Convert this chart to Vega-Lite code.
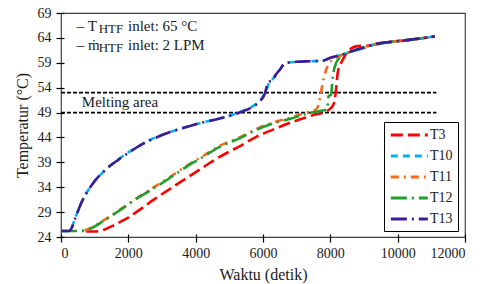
{
  "$schema": "https://vega.github.io/schema/vega-lite/v6.json",
  "width": 404,
  "height": 224,
  "autosize": {"type": "none"},
  "padding": {"left": 61, "top": 13, "right": 21, "bottom": 47},
  "background": "white",
  "config": {
    "view": {"stroke": "#404040", "strokeWidth": 1.2},
    "font": "Liberation Serif",
    "axis": {
      "grid": false,
      "domain": false,
      "tickSize": 8,
      "offset": -3,
      "tickColor": "#000000",
      "tickWidth": 1.2,
      "labelOverlap": false,
      "labelFont": "Liberation Serif",
      "labelFontSize": 14,
      "labelColor": "#1a1a1a",
      "titleFont": "Liberation Serif",
      "titleFontSize": 16,
      "titleFontWeight": "normal",
      "titleColor": "#1a1a1a"
    }
  },
  "datasets": {
    "curves": [
      {"s": "T3", "t": 750, "v": 25.1}, {"s": "T3", "t": 1000, "v": 25.1}, {"s": "T3", "t": 1250, "v": 25.4}, {"s": "T3", "t": 1550, "v": 26.3}, {"s": "T3", "t": 1748, "v": 27.0}, {"s": "T3", "t": 1946, "v": 27.7}, {"s": "T3", "t": 2300, "v": 29.3}, {"s": "T3", "t": 2735, "v": 31.4}, {"s": "T3", "t": 3200, "v": 33.5}, {"s": "T3", "t": 3724, "v": 35.8}, {"s": "T3", "t": 4200, "v": 37.9}, {"s": "T3", "t": 4711, "v": 40.1}, {"s": "T3", "t": 5300, "v": 42.2}, {"s": "T3", "t": 5798, "v": 44.1}, {"s": "T3", "t": 6489, "v": 46.1}, {"s": "T3", "t": 6785, "v": 46.9}, {"s": "T3", "t": 7180, "v": 47.8}, {"s": "T3", "t": 7500, "v": 48.5}, {"s": "T3", "t": 7872, "v": 49.2}, {"s": "T3", "t": 8000, "v": 49.8}, {"s": "T3", "t": 8069, "v": 50.3}, {"s": "T3", "t": 8130, "v": 51.5}, {"s": "T3", "t": 8168, "v": 53.5}, {"s": "T3", "t": 8217, "v": 56.9}, {"s": "T3", "t": 8316, "v": 58.9}, {"s": "T3", "t": 8400, "v": 60.0}, {"s": "T3", "t": 8513, "v": 61.2}, {"s": "T3", "t": 8650, "v": 62.0}, {"s": "T3", "t": 8760, "v": 62.3}, {"s": "T3", "t": 8950, "v": 62.4}, {"s": "T3", "t": 9100, "v": 62.4}, {"s": "T3", "t": 9452, "v": 62.9}, {"s": "T3", "t": 9800, "v": 63.2}, {"s": "T3", "t": 10341, "v": 63.6}, {"s": "T3", "t": 10800, "v": 64.0}, {"s": "T3", "t": 11100, "v": 64.3},

      {"s": "T10", "t": 0, "v": 25.2}, {"s": "T10", "t": 200, "v": 25.2}, {"s": "T10", "t": 300, "v": 25.7}, {"s": "T10", "t": 415, "v": 27.7}, {"s": "T10", "t": 612, "v": 31.0}, {"s": "T10", "t": 908, "v": 34.4}, {"s": "T10", "t": 1304, "v": 37.4}, {"s": "T10", "t": 1700, "v": 39.6}, {"s": "T10", "t": 2000, "v": 41.0}, {"s": "T10", "t": 2400, "v": 42.6}, {"s": "T10", "t": 2735, "v": 43.8}, {"s": "T10", "t": 3200, "v": 45.0}, {"s": "T10", "t": 3724, "v": 46.1}, {"s": "T10", "t": 4200, "v": 47.0}, {"s": "T10", "t": 4711, "v": 47.8}, {"s": "T10", "t": 5304, "v": 49.1}, {"s": "T10", "t": 5700, "v": 50.3}, {"s": "T10", "t": 5900, "v": 51.3}, {"s": "T10", "t": 6050, "v": 52.9}, {"s": "T10", "t": 6150, "v": 54.4}, {"s": "T10", "t": 6200, "v": 55.5}, {"s": "T10", "t": 6300, "v": 55.8}, {"s": "T10", "t": 6400, "v": 56.9}, {"s": "T10", "t": 6500, "v": 57.6}, {"s": "T10", "t": 6650, "v": 58.9}, {"s": "T10", "t": 7000, "v": 59.2}, {"s": "T10", "t": 7400, "v": 59.3}, {"s": "T10", "t": 7773, "v": 59.4}, {"s": "T10", "t": 8000, "v": 60.0}, {"s": "T10", "t": 8168, "v": 60.3}, {"s": "T10", "t": 8465, "v": 60.9}, {"s": "T10", "t": 8760, "v": 61.6}, {"s": "T10", "t": 8958, "v": 62.0}, {"s": "T10", "t": 9452, "v": 62.9}, {"s": "T10", "t": 9800, "v": 63.2}, {"s": "T10", "t": 10341, "v": 63.6}, {"s": "T10", "t": 10800, "v": 64.0}, {"s": "T10", "t": 11100, "v": 64.3},

      {"s": "T11", "t": 700, "v": 25.3}, {"s": "T11", "t": 809, "v": 25.6}, {"s": "T11", "t": 1304, "v": 27.5}, {"s": "T11", "t": 1798, "v": 29.7}, {"s": "T11", "t": 2292, "v": 32.0}, {"s": "T11", "t": 2735, "v": 33.9}, {"s": "T11", "t": 3200, "v": 35.9}, {"s": "T11", "t": 3724, "v": 38.3}, {"s": "T11", "t": 4200, "v": 40.2}, {"s": "T11", "t": 4711, "v": 42.3}, {"s": "T11", "t": 5300, "v": 44.0}, {"s": "T11", "t": 5798, "v": 45.7}, {"s": "T11", "t": 6300, "v": 47.0}, {"s": "T11", "t": 6785, "v": 47.9}, {"s": "T11", "t": 7100, "v": 48.6}, {"s": "T11", "t": 7378, "v": 49.2}, {"s": "T11", "t": 7575, "v": 49.6}, {"s": "T11", "t": 7650, "v": 50.6}, {"s": "T11", "t": 7710, "v": 52.6}, {"s": "T11", "t": 7773, "v": 54.9}, {"s": "T11", "t": 7872, "v": 57.5}, {"s": "T11", "t": 7970, "v": 58.9}, {"s": "T11", "t": 8100, "v": 59.8}, {"s": "T11", "t": 8300, "v": 60.4}, {"s": "T11", "t": 8465, "v": 60.9}, {"s": "T11", "t": 8760, "v": 61.6}, {"s": "T11", "t": 8958, "v": 62.0}, {"s": "T11", "t": 9452, "v": 62.9}, {"s": "T11", "t": 9800, "v": 63.2}, {"s": "T11", "t": 10341, "v": 63.6}, {"s": "T11", "t": 10800, "v": 64.0}, {"s": "T11", "t": 11100, "v": 64.3},

      {"s": "T12", "t": 0, "v": 25.2}, {"s": "T12", "t": 560, "v": 25.2}, {"s": "T12", "t": 809, "v": 25.5}, {"s": "T12", "t": 1304, "v": 27.4}, {"s": "T12", "t": 1798, "v": 29.6}, {"s": "T12", "t": 2292, "v": 31.9}, {"s": "T12", "t": 2735, "v": 33.7}, {"s": "T12", "t": 3200, "v": 35.7}, {"s": "T12", "t": 3724, "v": 38.1}, {"s": "T12", "t": 4200, "v": 40.0}, {"s": "T12", "t": 4711, "v": 42.1}, {"s": "T12", "t": 5300, "v": 43.8}, {"s": "T12", "t": 5798, "v": 45.5}, {"s": "T12", "t": 6300, "v": 46.8}, {"s": "T12", "t": 6785, "v": 47.7}, {"s": "T12", "t": 7378, "v": 48.9}, {"s": "T12", "t": 7773, "v": 49.4}, {"s": "T12", "t": 7900, "v": 49.6}, {"s": "T12", "t": 7950, "v": 52.3}, {"s": "T12", "t": 8020, "v": 52.6}, {"s": "T12", "t": 8069, "v": 56.0}, {"s": "T12", "t": 8168, "v": 58.9}, {"s": "T12", "t": 8365, "v": 60.5}, {"s": "T12", "t": 8760, "v": 61.5}, {"s": "T12", "t": 8958, "v": 61.9}, {"s": "T12", "t": 9452, "v": 62.8}, {"s": "T12", "t": 9800, "v": 63.2}, {"s": "T12", "t": 10341, "v": 63.6}, {"s": "T12", "t": 10800, "v": 64.0}, {"s": "T12", "t": 11100, "v": 64.3},

      {"s": "T13", "t": 0, "v": 25.2}, {"s": "T13", "t": 230, "v": 25.2}, {"s": "T13", "t": 330, "v": 26.0}, {"s": "T13", "t": 430, "v": 27.9}, {"s": "T13", "t": 620, "v": 31.1}, {"s": "T13", "t": 908, "v": 34.4}, {"s": "T13", "t": 1304, "v": 37.4}, {"s": "T13", "t": 1700, "v": 39.5}, {"s": "T13", "t": 2000, "v": 40.9}, {"s": "T13", "t": 2400, "v": 42.6}, {"s": "T13", "t": 2735, "v": 43.7}, {"s": "T13", "t": 3200, "v": 45.0}, {"s": "T13", "t": 3724, "v": 46.1}, {"s": "T13", "t": 4200, "v": 47.0}, {"s": "T13", "t": 4711, "v": 47.8}, {"s": "T13", "t": 5304, "v": 49.0}, {"s": "T13", "t": 5700, "v": 50.2}, {"s": "T13", "t": 5900, "v": 51.2}, {"s": "T13", "t": 6050, "v": 52.7}, {"s": "T13", "t": 6130, "v": 54.6}, {"s": "T13", "t": 6180, "v": 55.2}, {"s": "T13", "t": 6280, "v": 55.4}, {"s": "T13", "t": 6380, "v": 56.6}, {"s": "T13", "t": 6500, "v": 57.6}, {"s": "T13", "t": 6650, "v": 58.9}, {"s": "T13", "t": 7000, "v": 59.2}, {"s": "T13", "t": 7400, "v": 59.3}, {"s": "T13", "t": 7773, "v": 59.4}, {"s": "T13", "t": 8000, "v": 60.0}, {"s": "T13", "t": 8168, "v": 60.3}, {"s": "T13", "t": 8465, "v": 60.9}, {"s": "T13", "t": 8760, "v": 61.6}, {"s": "T13", "t": 8958, "v": 62.0}, {"s": "T13", "t": 9452, "v": 62.9}, {"s": "T13", "t": 9800, "v": 63.2}, {"s": "T13", "t": 10341, "v": 63.6}, {"s": "T13", "t": 10800, "v": 64.0}, {"s": "T13", "t": 11100, "v": 64.3}
    ],
    "refs": [
      {"y": 53, "x0": 0, "x1": 11150},
      {"y": 49, "x0": 0, "x1": 11150}
    ],
    "labels": [
      {"txt": "Melting area", "x": 620, "y": 51.2, "size": 15, "weight": "normal"},
      {"txt": "– T", "x": 470, "y": 66.4, "size": 15, "weight": "normal"},
      {"txt": "HTF", "x": 1120, "y": 65.8, "size": 13, "weight": "bold"},
      {"txt": "inlet: 65 °C", "x": 1990, "y": 66.4, "size": 15, "weight": "normal"},
      {"txt": "– ṁ", "x": 470, "y": 62.6, "size": 15, "weight": "normal"},
      {"txt": "HTF", "x": 1120, "y": 62.0, "size": 13, "weight": "bold"},
      {"txt": "inlet: 2 LPM", "x": 1990, "y": 62.6, "size": 15, "weight": "normal"}
    ]
  },
  "layer": [
    {
      "data": {"name": "refs"},
      "mark": {"type": "rule", "color": "#000000", "strokeWidth": 1.8, "strokeDash": [4, 2]},
      "encoding": {
        "y": {"field": "y", "type": "quantitative", "scale": {"domain": [24, 69]}},
        "x": {"field": "x0", "type": "quantitative", "scale": {"domain": [0, 12000]}},
        "x2": {"field": "x1"}
      }
    },
    {
      "data": {"name": "curves"},
      "mark": {"type": "line", "strokeWidth": 2.6, "interpolate": "monotone"},
      "encoding": {
        "x": {
          "field": "t", "type": "quantitative",
          "scale": {"domain": [0, 12000], "nice": false},
          "axis": {"values": [0, 2000, 4000, 6000, 8000, 10000, 12000], "title": "Waktu (detik)", "labelPadding": 4, "titlePadding": 6, "format": "d", "labelOverlap": false}
        },
        "y": {
          "field": "v", "type": "quantitative",
          "scale": {"domain": [24, 69], "nice": false, "zero": false},
          "axis": {"values": [24, 29, 34, 39, 44, 49, 54, 59, 64, 69], "title": "Temperatur (°C)", "labelPadding": 5, "titlePadding": 7, "labelOverlap": false, "labelSeparation": 0, "tickCount": 10}
        },
        "color": {
          "field": "s", "type": "nominal",
          "scale": {"domain": ["T3", "T10", "T11", "T12", "T13"], "range": ["#FF0000", "#00B0F0", "#F26B1D", "#1E9E2E", "#3E1A9A"]},
          "legend": {
            "title": null,
            "orient": "none",
            "legendX": 323,
            "legendY": 109,
            "symbolType": "M-1,0H5",
            "symbolSize": 152,
            "symbolStrokeWidth": 3,
            "labelFont": "Liberation Serif",
            "labelFontSize": 14,
            "labelColor": "#1a1a1a",
            "labelOffset": 25,
            "rowPadding": 6,
            "padding": 5,
            "strokeColor": "#000000",
            "fillColor": "white"
          }
        },
        "strokeDash": {
          "field": "s", "type": "nominal",
          "scale": {"domain": ["T3", "T10", "T11", "T12", "T13"], "range": [[12, 5], [7, 5], [8, 5, 2, 5], [16, 5, 2, 5], [16, 5, 2, 5]]},
          "legend": null
        },
        "order": {"field": "t", "type": "quantitative"}
      }
    },
    {
      "data": {"name": "labels"},
      "mark": {"type": "text", "align": "left", "baseline": "middle", "font": "Liberation Serif", "color": "#1a1a1a"},
      "encoding": {
        "x": {"field": "x", "type": "quantitative"},
        "y": {"field": "y", "type": "quantitative"},
        "text": {"field": "txt"},
        "size": {"field": "size", "type": "quantitative", "scale": null},
        "fontWeight": {"field": "weight", "type": "nominal", "scale": null}
      }
    }
  ]
}
